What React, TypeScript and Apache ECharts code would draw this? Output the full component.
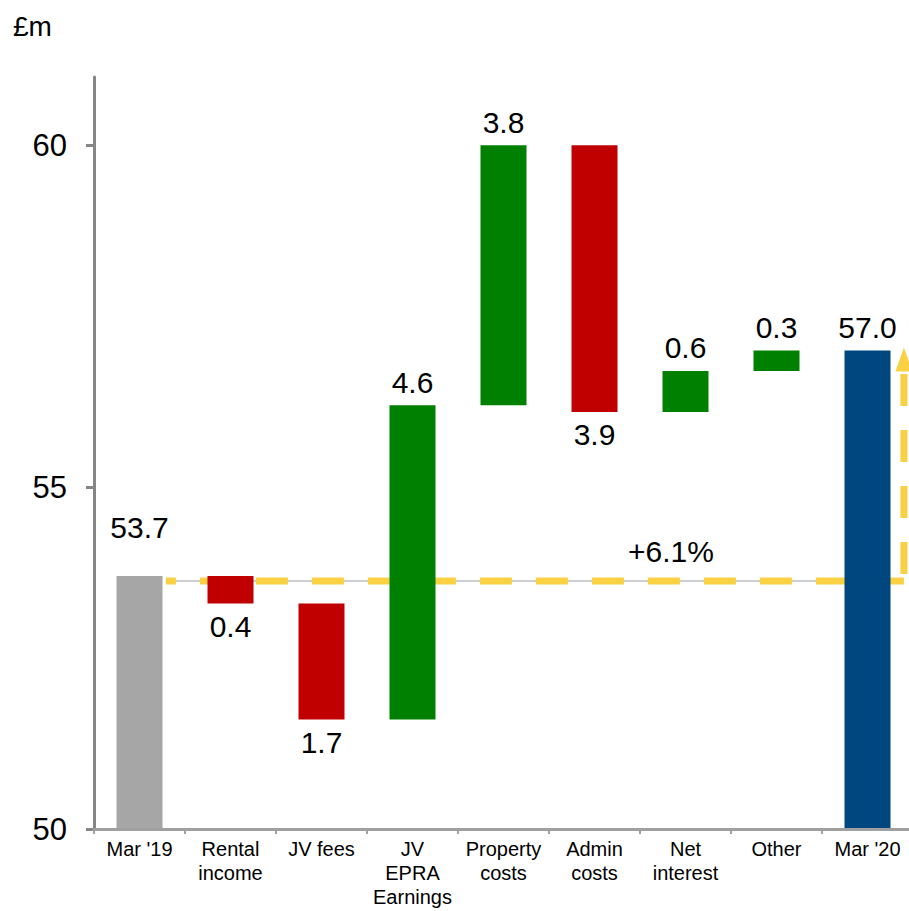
import React, { useEffect, useRef } from "react";
import * as echarts from "echarts";

const categories = [
  "Mar '19",
  "Rental\nincome",
  "JV fees",
  "JV\nEPRA\nEarnings",
  "Property\ncosts",
  "Admin\ncosts",
  "Net\ninterest",
  "Other",
  "Mar '20",
];
const startValue = 53.7;
const deltas = [-0.4, -1.7, 4.6, 3.8, -3.9, 0.6, 0.3];
const endValue = 57.0;
const growthLabel = "+6.1%";
const yTicks = [50, 55, 60];

const FONT = "'Liberation Sans', Arial, Helvetica, sans-serif";
const GRAY = "#A6A6A6";
const RED = "#C00000";
const GREEN = "#008000";
const BLUE = "#00477F";
const YELLOW = "#F9D142";

export default function App() {
  const ref = useRef<HTMLDivElement>(null);
  useEffect(() => {
    if (!ref.current) return;
    const chart = echarts.init(ref.current, undefined, { renderer: "svg" });

    const base: number[] = [];
    const height: any[] = [];
    const texts: string[] = [];
    base.push(0);
    height.push({ value: startValue, itemStyle: { color: GRAY }, label: { position: "top", offset: [0, -26] } });
    texts.push(startValue.toFixed(1));
    let run = startValue;
    deltas.forEach((d) => {
      const next = Math.round((run + d) * 10) / 10;
      base.push(Math.min(run, next));
      height.push({
        value: Math.abs(d),
        itemStyle: { color: d >= 0 ? GREEN : RED },
        label: { position: d >= 0 ? "top" : "bottom" },
      });
      texts.push(Math.abs(d).toFixed(1));
      run = next;
    });
    base.push(0);
    height.push({ value: endValue, itemStyle: { color: BLUE }, label: { position: "top" } });
    texts.push(endValue.toFixed(1));

    const ANNOT_X0 = 0.29;
    const ANNOT_X1 = 8.4;
    const TEXT_X = 5.84;

    chart.setOption({
      animation: false,
      textStyle: { fontFamily: FONT },
      grid: { left: 94, top: 77, width: 819, height: 752, containLabel: false, outerBoundsMode: "none" },
      graphic: [
        {
          type: "text",
          left: 13,
          top: 12,
          style: { text: "£m", fontSize: 28, fill: "#000", fontFamily: FONT },
        },
      ],
      xAxis: [
        {
          type: "category",
          data: categories,
          axisLine: { onZero: false, lineStyle: { color: "#A0A0A0", width: 3 } },
          axisTick: { show: true, length: 5, lineStyle: { color: "#A0A0A0", width: 2 } },
          axisLabel: {
            interval: 0,
            color: "#000",
            fontSize: 20,
            lineHeight: 24,
            margin: 8,
            fontFamily: FONT,
          },
          z: 5,
        },
        { type: "value", min: -0.5, max: 8.5, show: false },
      ],
      yAxis: {
        type: "value",
        min: 50,
        max: 61,
        interval: 5,
        axisLine: { show: true, onZero: false, lineStyle: { color: "#868686", width: 3 } },
        axisTick: { show: true, length: 8, lineStyle: { color: "#868686", width: 3 }, customValues: yTicks },
        axisLabel: { color: "#000", fontSize: 31, margin: 27, fontFamily: FONT, customValues: yTicks },
        splitLine: { show: false },
      },
      series: [
        {
          type: "custom",
          xAxisIndex: 1,
          yAxisIndex: 0,
          z: 1,
          silent: true,
          data: [[ANNOT_X0, startValue]],
          renderItem: (params: any, api: any) => {
            const p0 = api.coord([ANNOT_X0, startValue]);
            const p1 = api.coord([ANNOT_X1, startValue]);
            const p2 = api.coord([ANNOT_X1, endValue]);
            const pt = api.coord([TEXT_X, startValue]);
            const y = p0[1] + 5;
            const x = p1[0];
            const tip = p2[1] - 3;
            const baseY = tip + 24;
            return {
              type: "group",
              children: [
                {
                  type: "line",
                  shape: { x1: p0[0], y1: y, x2: x, y2: y },
                  style: { stroke: "#BFBFBF", lineWidth: 1.5 },
                },
                {
                  type: "line",
                  shape: { x1: p0[0], y1: y, x2: x, y2: y },
                  style: { stroke: YELLOW, lineWidth: 7, lineDash: [32, 24], lineDashOffset: 22 },
                },
                {
                  type: "line",
                  shape: { x1: x, y1: y, x2: x, y2: baseY },
                  style: { stroke: YELLOW, lineWidth: 7, lineDash: [32, 24], lineDashOffset: 49 },
                },
                {
                  type: "polygon",
                  shape: { points: [[x - 8.5, baseY], [x + 8.5, baseY], [x, tip]] },
                  style: { fill: YELLOW },
                },
                {
                  type: "text",
                  x: pt[0],
                  y: y - 30,
                  style: {
                    text: growthLabel,
                    fontSize: 30,
                    fill: "#000",
                    fontFamily: FONT,
                    align: "center",
                    verticalAlign: "middle",
                  },
                },
              ],
            };
          },
        },
        {
          type: "bar",
          stack: "w",
          barWidth: 46,
          z: 2,
          itemStyle: { color: "transparent" },
          emphasis: { disabled: true },
          data: base,
          silent: true,
        },
        {
          type: "bar",
          stack: "w",
          barWidth: 46,
          z: 3,
          data: height,
          label: {
            show: true,
            distance: 8,
            fontSize: 30,
            color: "#000",
            fontFamily: FONT,
            formatter: (p: any) => texts[p.dataIndex],
          },
        },
      ],
    });
    return () => chart.dispose();
  }, []);
  return (
    <div
      ref={ref}
      style={{ position: "absolute", left: 0, top: 0, width: 909, height: 911, background: "#fff" }}
    />
  );
}
